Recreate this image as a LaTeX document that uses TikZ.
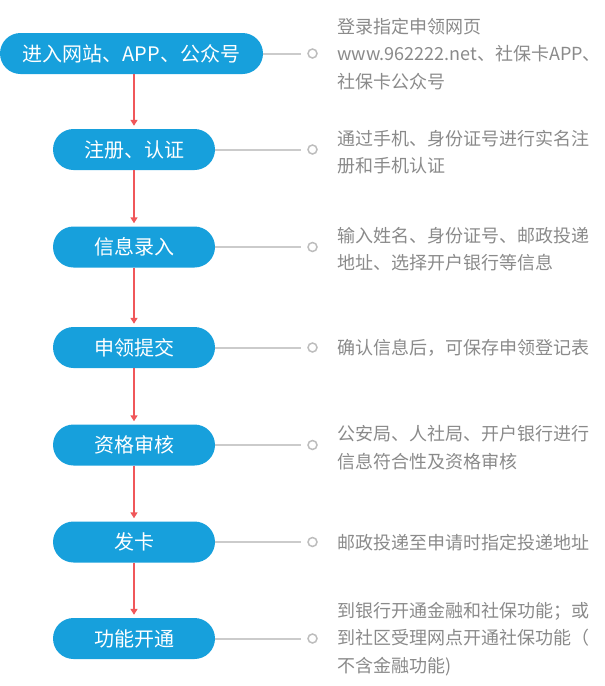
\documentclass[tikz,border=0pt]{standalone}
\usepackage{fontspec}
\setmainfont{Noto Sans CJK SC}
\usetikzlibrary{arrows.meta}
\definecolor{stepblue}{HTML}{17A0DC}
\definecolor{arrred}{HTML}{F0575A}
\definecolor{linegray}{HTML}{CBCBCB}
\definecolor{dotgray}{HTML}{BDBDBD}
\definecolor{descgray}{HTML}{8A8A8A}
\tikzset{
  stepbox/.style={fill=stepblue, rounded corners=20.5pt, minimum height=41pt, minimum width=162pt,
    inner sep=0pt, text=white, font=\fontsize{20}{24}\selectfont},
  flowarr/.style={draw=arrred, line width=1.6pt, -{Triangle[width=7pt,length=6pt]}, shorten >=3pt},
  leadline/.style={draw=linegray, line width=2pt},
  dot/.style={circle, draw=dotgray, line width=1.5pt, fill=white, minimum size=9pt, inner sep=0pt},
  desc/.style={anchor=west, align=left, inner sep=0pt, text=descgray, font=\fontsize{18}{27.5}\selectfont}
}
\begin{document}
\begin{tikzpicture}[x=1pt,y=-1pt]
\useasboundingbox (0,0) rectangle (605,686);
% steps
\node[stepbox, minimum width=263pt] (n1) at (131.5,53.5) {进入网站、APP、公众号};
\node[stepbox] (n2) at (134,149.5) {注册、认证};
\node[stepbox] (n3) at (134,247) {信息录入};
\node[stepbox] (n4) at (134,347.5) {申领提交};
\node[stepbox] (n5) at (134,445) {资格审核};
\node[stepbox] (n6) at (134,542) {发卡};
\node[stepbox] (n7) at (134,638.5) {功能开通};
% arrows
\draw[flowarr] (n1.south -| n2.center) -- (n2.north);
\draw[flowarr] (n2.south) -- (n3.north);
\draw[flowarr] (n3.south) -- (n4.north);
\draw[flowarr] (n4.south) -- (n5.north);
\draw[flowarr] (n5.south) -- (n6.north);
\draw[flowarr] (n6.south) -- (n7.north);
% dots
\node[dot] (c1) at (312.5,53.5) {};
\node[dot] (c2) at (312.5,149.5) {};
\node[dot] (c3) at (312.5,247) {};
\node[dot] (c4) at (312.5,347.5) {};
\node[dot] (c5) at (312.5,445) {};
\node[dot] (c6) at (312.5,542) {};
\node[dot] (c7) at (312.5,638.5) {};
% lead lines
\draw[leadline] (n1.east) -- ([xshift=-6pt]c1.west);
\draw[leadline] (n2.east) -- ([xshift=-6pt]c2.west);
\draw[leadline] (n3.east) -- ([xshift=-6pt]c3.west);
\draw[leadline] (n4.east) -- ([xshift=-6pt]c4.west);
\draw[leadline] (n5.east) -- ([xshift=-6pt]c5.west);
\draw[leadline] (n6.east) -- ([xshift=-6pt]c6.west);
\draw[leadline] (n7.east) -- ([xshift=-6pt]c7.west);
% descriptions
\node[desc] (t1) at (337,54) {登录指定申领网页\\www.962222.net、社保卡APP、\\社保卡公众号};
\node[desc] (t2) at (337,152) {通过手机、身份证号进行实名注\\册和手机认证};
\node[desc] (t3) at (337,249) {输入姓名、身份证号、邮政投递\\地址、选择开户银行等信息};
\node[desc] (t4) at (337,348) {确认信息后，可保存申领登记表};
\node[desc] (t5) at (337,447.5) {公安局、人社局、开户银行进行\\信息符合性及资格审核};
\node[desc] (t6) at (337,543) {邮政投递至申请时指定投递地址};
\node[desc] (t7) at (337,639) {到银行开通金融和社保功能；或\\到社区受理网点开通社保功能（\\不含金融功能)};
\end{tikzpicture}
\end{document}
